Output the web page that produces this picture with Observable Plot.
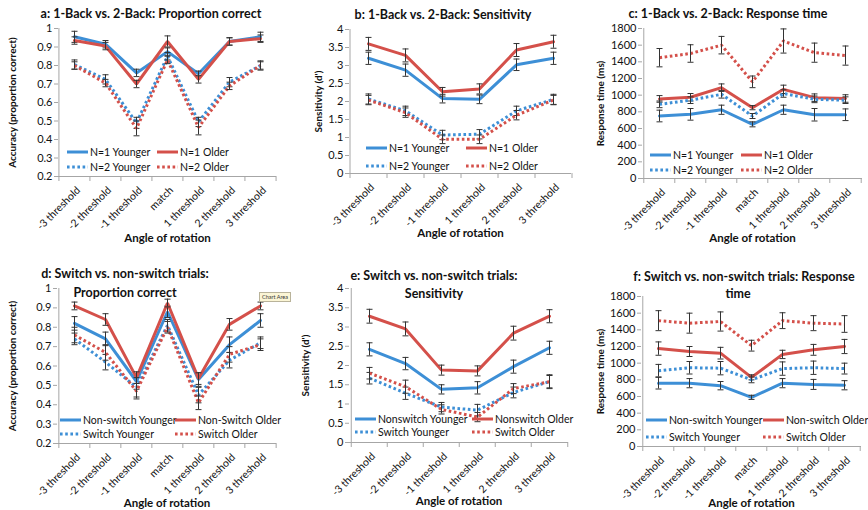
<!DOCTYPE html>
<html><head><meta charset="utf-8">
<script src="https://cdn.jsdelivr.net/npm/d3@7"></script>
<script src="https://cdn.jsdelivr.net/npm/@observablehq/plot@0.6"></script>
<style>
body{margin:0;background:#fff;font-family:Lato,"Liberation Sans",sans-serif;color:#111}
#root{position:relative;width:868px;height:510px;overflow:hidden;background:#fff}
.panel{position:absolute}
.panel svg{overflow:visible}
.title{position:absolute;font-weight:bold;font-size:12.5px;line-height:12px;text-align:center;white-space:nowrap;transform:translate(-50%,-50%)}
.li{position:absolute;display:flex;align-items:center;font-size:10.5px;line-height:14px;white-space:nowrap}
.li svg{margin-right:2px}
.tip{position:absolute;font-size:5.5px;background:#fbf5d5;border:1px solid #b9b39a;padding:0 2px;line-height:8px;color:#333}
</style></head>
<body><div id="root"></div>
<script>
const angles7 = ["-3 threshold","-2 threshold","-1 threshold","match","1 threshold","2 threshold","3 threshold"];
const angles6 = ["-3 threshold","-2 threshold","-1 threshold","1 threshold","2 threshold","3 threshold"];
const accTicks = [0.2,0.3,0.4,0.5,0.6,0.7,0.8,0.9,1];
const sensTicks = [0,0.5,1,1.5,2,2.5,3,3.5,4];
const rtTicks = [0,200,400,600,800,1000,1200,1400,1600,1800];

// a: 1-Back vs 2-Back proportion correct
const aN1Younger = [0.955,0.915,0.76,0.875,0.755,0.93,0.955];
const aN1YoungerErr = [0.03,0.02,0.02,0.02,0.015,0.02,0.025];
const aN1Older = [0.935,0.905,0.70,0.93,0.725,0.93,0.945];
const aN1OlderErr = [0.02,0.02,0.02,0.03,0.02,0.02,0.02];
const aN2Younger = [0.805,0.725,0.49,0.85,0.495,0.71,0.80];
const aN2YoungerErr = [0.025,0.025,0.03,0.02,0.025,0.025,0.025];
const aN2Older = [0.80,0.705,0.46,0.83,0.465,0.69,0.80];
const aN2OlderErr = [0.02,0.02,0.04,0.02,0.04,0.02,0.02];

// b: 1-Back vs 2-Back sensitivity
const bN1Younger = [3.2,2.87,2.08,2.06,3.02,3.2];
const bN1YoungerErr = [0.17,0.17,0.12,0.12,0.16,0.17];
const bN1Older = [3.6,3.28,2.27,2.35,3.43,3.66];
const bN1OlderErr = [0.18,0.18,0.12,0.14,0.18,0.18];
const bN2Younger = [2.07,1.74,1.07,1.09,1.74,2.06];
const bN2YoungerErr = [0.14,0.13,0.13,0.13,0.13,0.14];
const bN2Older = [2.04,1.69,0.95,0.95,1.62,2.04];
const bN2OlderErr = [0.13,0.13,0.12,0.12,0.13,0.13];

// c: 1-Back vs 2-Back response time
const cN1Younger = [750,770,825,650,825,765,765];
const cN1YoungerErr = [70,70,55,30,55,75,70];
const cN1Older = [955,975,1090,850,1070,970,960];
const cN1OlderErr = [40,45,45,25,50,45,45];
const cN2Younger = [890,940,1010,750,1020,950,940];
const cN2YoungerErr = [40,40,45,30,45,40,40];
const cN2Older = [1450,1500,1600,1160,1650,1510,1475];
const cN2OlderErr = [110,105,105,70,145,115,115];

// d: switch vs non-switch proportion correct
const dNonYounger = [0.82,0.74,0.52,0.88,0.53,0.71,0.835];
const dNonYoungerErr = [0.035,0.035,0.04,0.03,0.035,0.04,0.035];
const dNonOlder = [0.91,0.84,0.54,0.925,0.535,0.815,0.91];
const dNonOlderErr = [0.02,0.03,0.03,0.02,0.03,0.03,0.02];
const dSwYounger = [0.74,0.62,0.49,0.81,0.45,0.63,0.72];
const dSwYoungerErr = [0.03,0.04,0.05,0.03,0.04,0.04,0.03];
const dSwOlder = [0.76,0.67,0.47,0.80,0.41,0.66,0.71];
const dSwOlderErr = [0.04,0.04,0.04,0.03,0.035,0.04,0.03];

// e: switch vs non-switch sensitivity
const eNonYounger = [2.42,2.05,1.38,1.42,1.97,2.46];
const eNonYoungerErr = [0.17,0.16,0.12,0.16,0.17,0.17];
const eNonOlder = [3.28,2.95,1.88,1.86,2.84,3.28];
const eNonOlderErr = [0.18,0.18,0.13,0.13,0.18,0.17];
const eSwYounger = [1.67,1.28,0.92,0.84,1.30,1.58];
const eSwYoungerErr = [0.15,0.16,0.12,0.15,0.14,0.16];
const eSwOlder = [1.80,1.45,0.86,0.66,1.40,1.58];
const eSwOlderErr = [0.15,0.17,0.12,0.12,0.13,0.18];

// f: switch vs non-switch response time
const fNonYounger = [760,760,730,590,760,745,735];
const fNonYoungerErr = [70,55,50,25,55,60,55];
const fNonOlder = [1175,1140,1120,830,1105,1160,1200];
const fNonOlderErr = [80,60,70,30,50,65,85];
const fSwYounger = [910,945,940,800,935,945,935];
const fSwYoungerErr = [75,75,80,35,80,80,65];
const fSwOlder = [1510,1480,1500,1210,1510,1480,1470];
const fSwOlderErr = [120,120,115,65,95,90,100];

const BLUE = "#3d8fd6", RED = "#d4504a";
const fmtAcc = d => String(Math.round(d * 10) / 10);
const fmtNum = d => String(d);

const capSymbol = {draw(ctx) { ctx.moveTo(-3, 0); ctx.lineTo(3, 0); }};

const root = document.getElementById("root");

function panel(cfg) {
  const n = cfg.cats.length;
  const half = (cfg.width - cfg.ml - cfg.mr) / n / 2;
  const marks = [
    Plot.ruleY([cfg.ymin], {stroke: "#a6a6a6"}),
    Plot.ruleX([cfg.cats[0]], {x: d => d, y1: () => cfg.ymin, y2: () => cfg.ymax, dx: -half, stroke: "#a6a6a6"}),
    Plot.axisY({ticks: cfg.ticks, tickSize: 4, tickPadding: 2, tickFormat: cfg.fmt, stroke: "#a6a6a6", fill: "#111", fontSize: 11, label: null}),
    Plot.axisX({ticks: cfg.cats, tickSize: 5, tickFormat: () => "", dx: -half, stroke: "#a6a6a6", label: null}),
    Plot.axisX({ticks: [cfg.cats[n - 1]], tickSize: 5, tickFormat: () => "", dx: half, stroke: "#a6a6a6", label: null}),
    Plot.axisX({ticks: cfg.cats, tickSize: 0, tickPadding: 9, tickRotate: -45, dx: 4, dy: 3, fill: "#111", fontSize: 10.5, label: null}),
    Plot.text([cfg.ylabel], {text: d => d, frameAnchor: "left", rotate: -90, dx: -cfg.ylOff, textAnchor: "middle", lineAnchor: "middle", fontWeight: "bold", fontSize: 10, fill: "#111"}),
    Plot.text(["Angle of rotation"], {text: d => d, frameAnchor: "bottom", dy: cfg.xlDy, textAnchor: "middle", lineAnchor: "middle", fontWeight: "bold", fontSize: 11.5, fill: "#111"})
  ];
  for (const s of cfg.series) {
    const rows = cfg.cats.map((c, i) => ({cat: c, v: s.values[i], e: s.errs[i]}));
    marks.push(Plot.line(rows, {x: "cat", y: "v", stroke: s.color, strokeWidth: 3,
      strokeDasharray: s.dotted ? "2.6,2.6" : "none", strokeLinecap: s.dotted ? "butt" : "round", strokeLinejoin: "miter"}));
    marks.push(Plot.ruleX(rows, {x: "cat", y1: d => d.v - d.e, y2: d => d.v + d.e, stroke: "#333", strokeWidth: 1}));
    marks.push(Plot.dot(rows, {x: "cat", y: d => d.v + d.e, symbol: capSymbol, fill: "none", stroke: "#333", strokeWidth: 1}));
    marks.push(Plot.dot(rows, {x: "cat", y: d => d.v - d.e, symbol: capSymbol, fill: "none", stroke: "#333", strokeWidth: 1}));
  }
  const svg = Plot.plot({
    width: cfg.width, height: cfg.height,
    marginLeft: cfg.ml, marginRight: cfg.mr, marginTop: cfg.mt, marginBottom: cfg.mb,
    x: {type: "point", domain: cfg.cats, padding: 0.5},
    y: {domain: [cfg.ymin, cfg.ymax]},
    style: {fontFamily: "Lato, 'Liberation Sans', sans-serif", fontSize: "11px", color: "#111", background: "transparent", overflow: "visible"},
    marks
  });
  const div = document.createElement("div");
  div.className = "panel";
  div.style.left = cfg.left + "px";
  div.style.top = cfg.top + "px";
  div.appendChild(svg);
  root.appendChild(div);

  cfg.title.forEach((line, i) => {
    const t = document.createElement("div");
    t.className = "title";
    t.style.left = cfg.titleX[i] + "px";
    t.style.top = cfg.titleY[i] + "px";
    t.textContent = line;
    root.appendChild(t);
  });

  cfg.series.forEach((s, i) => {
    const col = i % 2, row = Math.floor(i / 2);
    const li = document.createElement("div");
    li.className = "li";
    li.style.left = (col ? cfg.lg.x2 : cfg.lg.x1) + "px";
    li.style.top = ((row ? cfg.lg.y2 : cfg.lg.y1) - 7) + "px";
    li.innerHTML = `<svg width="21" height="14"><line x1="0" x2="21" y1="7" y2="7" stroke="${s.color}" stroke-width="3" ${s.dotted ? 'stroke-dasharray="2.6,2.6"' : ''}/></svg>`;
    const sp = document.createElement("span");
    sp.textContent = s.name;
    li.appendChild(sp);
    root.appendChild(li);
  });
}

panel({left: 0, top: 0, width: 290, height: 250, ml: 58, mr: 14, mt: 28, mb: 74,
  cats: angles7, ymin: 0.2, ymax: 1, ticks: accTicks, fmt: fmtAcc,
  ylabel: "Accuracy (proportion correct)", ylOff: 46, xlDy: 62,
  title: ["a: 1-Back vs. 2-Back: Proportion correct"], titleX: [151], titleY: [14],
  lg: {x1: 67, x2: 157, y1: 152, y2: 167},
  series: [
    {name: "N=1 Younger", values: aN1Younger, errs: aN1YoungerErr, color: BLUE, dotted: false},
    {name: "N=1 Older", values: aN1Older, errs: aN1OlderErr, color: RED, dotted: false},
    {name: "N=2 Younger", values: aN2Younger, errs: aN2YoungerErr, color: BLUE, dotted: true},
    {name: "N=2 Older", values: aN2Older, errs: aN2OlderErr, color: RED, dotted: true}
  ]});

panel({left: 290, top: 0, width: 289, height: 250, ml: 59, mr: 8, mt: 29, mb: 77,
  cats: angles6, ymin: 0, ymax: 4, ticks: sensTicks, fmt: fmtNum,
  ylabel: "Sensitivity (d')", ylOff: 31, xlDy: 60,
  title: ["b: 1-Back vs. 2-Back: Sensitivity"], titleX: [443], titleY: [15],
  lg: {x1: 366, x2: 466, y1: 148, y2: 166},
  series: [
    {name: "N=1 Younger", values: bN1Younger, errs: bN1YoungerErr, color: BLUE, dotted: false},
    {name: "N=1 Older", values: bN1Older, errs: bN1OlderErr, color: RED, dotted: false},
    {name: "N=2 Younger", values: bN2Younger, errs: bN2YoungerErr, color: BLUE, dotted: true},
    {name: "N=2 Older", values: bN2Older, errs: bN2OlderErr, color: RED, dotted: true}
  ]});

panel({left: 578, top: 0, width: 290, height: 250, ml: 64, mr: 6, mt: 28, mb: 72,
  cats: angles7, ymin: 0, ymax: 1800, ticks: rtTicks, fmt: fmtNum,
  ylabel: "Response time (ms)", ylOff: 42, xlDy: 60,
  title: ["c: 1-Back vs. 2-Back: Response time"], titleX: [728], titleY: [14],
  lg: {x1: 650, x2: 741, y1: 155, y2: 170},
  series: [
    {name: "N=1 Younger", values: cN1Younger, errs: cN1YoungerErr, color: BLUE, dotted: false},
    {name: "N=1 Older", values: cN1Older, errs: cN1OlderErr, color: RED, dotted: false},
    {name: "N=2 Younger", values: cN2Younger, errs: cN2YoungerErr, color: BLUE, dotted: true},
    {name: "N=2 Older", values: cN2Older, errs: cN2OlderErr, color: RED, dotted: true}
  ]});

panel({left: 0, top: 255, width: 290, height: 255, ml: 57, mr: 14, mt: 33, mb: 67,
  cats: angles7, ymin: 0.2, ymax: 1, ticks: accTicks, fmt: fmtAcc,
  ylabel: "Accuracy (proportion correct)", ylOff: 45, xlDy: 60,
  title: ["d: Switch vs. non-switch trials:", "Proportion correct"], titleX: [125, 125], titleY: [274, 293],
  lg: {x1: 60, x2: 175, y1: 420, y2: 434},
  series: [
    {name: "Non-switch Younger", values: dNonYounger, errs: dNonYoungerErr, color: BLUE, dotted: false},
    {name: "Non-Switch Older", values: dNonOlder, errs: dNonOlderErr, color: RED, dotted: false},
    {name: "Switch Younger", values: dSwYounger, errs: dSwYoungerErr, color: BLUE, dotted: true},
    {name: "Switch Older", values: dSwOlder, errs: dSwOlderErr, color: RED, dotted: true}
  ]});

panel({left: 290, top: 255, width: 289, height: 255, ml: 59, mr: 11, mt: 33, mb: 68,
  cats: angles6, ymin: 0, ymax: 4, ticks: sensTicks, fmt: fmtNum,
  ylabel: "Sensitivity (d')", ylOff: 44, xlDy: 59,
  title: ["e: Switch vs. non-switch trials:", "Sensitivity"], titleX: [434, 434], titleY: [276, 294],
  lg: {x1: 355, x2: 472, y1: 419, y2: 432},
  series: [
    {name: "Nonswitch Younger", values: eNonYounger, errs: eNonYoungerErr, color: BLUE, dotted: false},
    {name: "Nonswitch Older", values: eNonOlder, errs: eNonOlderErr, color: RED, dotted: false},
    {name: "Switch Younger", values: eSwYounger, errs: eSwYoungerErr, color: BLUE, dotted: true},
    {name: "Switch Older", values: eSwOlder, errs: eSwOlderErr, color: RED, dotted: true}
  ]});

panel({left: 578, top: 255, width: 290, height: 255, ml: 63, mr: 7, mt: 41, mb: 64,
  cats: angles7, ymin: 0, ymax: 1800, ticks: rtTicks, fmt: fmtNum,
  ylabel: "Response time (ms)", ylOff: 41, xlDy: 57,
  title: ["f: Switch vs. non-switch trials: Response", "time"], titleX: [744, 738], titleY: [277, 294],
  lg: {x1: 646, x2: 763, y1: 420, y2: 437},
  series: [
    {name: "Non-switch Younger", values: fNonYounger, errs: fNonYoungerErr, color: BLUE, dotted: false},
    {name: "Non-switch Older", values: fNonOlder, errs: fNonOlderErr, color: RED, dotted: false},
    {name: "Switch Younger", values: fSwYounger, errs: fSwYoungerErr, color: BLUE, dotted: true},
    {name: "Switch Older", values: fSwOlder, errs: fSwOlderErr, color: RED, dotted: true}
  ]});

const tip = document.createElement("div");
tip.className = "tip";
tip.style.left = "259px";
tip.style.top = "292px";
tip.textContent = "Chart Area";
root.appendChild(tip);
</script>
</body></html>
